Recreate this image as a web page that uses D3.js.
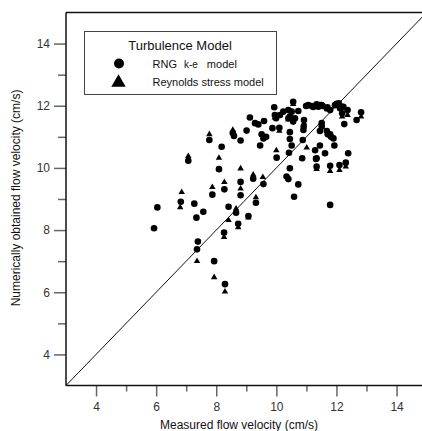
<!DOCTYPE html>
<html>
<head>
<meta charset="utf-8">
<script src="https://cdn.jsdelivr.net/npm/d3@7"></script>
<style>
  html, body { margin: 0; padding: 0; background: #fff; overflow: hidden; }
  text { font-family: "Liberation Sans", Arial, sans-serif; white-space: pre; }
</style>
</head>
<body>
<svg id="chart" width="422" height="431"></svg>
<script>
// ---- data ----
const rngMeasured = [5.93,6.04,6.82,7.07,7.27,7.34,7.39,7.36,7.57,7.77,7.87,7.93,8.09,8.18,8.27,8.26,8.29,8.41,8.55,8.59,8.66,8.73,8.81,8.81,8.81,9.01,9.07,9.12,9.29,9.40,9.59,9.51,9.66,9.57,9.46,9.23,9.57,9.32,9.87,10.10,9.93,9.95,9.99,10.12,10.23,10.40,10.51,10.45,10.40,10.73,10.62,10.56,10.56,10.92,10.91,10.90,10.88,10.45,10.45,10.51,10.42,10.01,10.86,11.29,11.32,10.45,10.34,10.40,10.73,10.59,11.79,10.99,11.06,11.18,11.23,11.34,11.40,11.45,11.51,11.54,11.68,11.70,11.79,11.95,12.01,12.08,12.12,12.18,12.23,12.19,12.37,12.82,12.67,12.26,11.51,11.51,11.45,11.68,11.71,11.79,11.82,11.90,11.45,11.93,11.62,12.39,11.34,11.34,11.79,12.10,12.31];
const rngValues   = [8.06,8.73,8.91,10.23,8.85,8.40,7.63,7.38,8.59,10.90,9.14,7.00,9.96,10.68,9.31,7.92,6.26,8.75,11.12,11.03,8.56,8.20,10.88,9.55,9.12,11.20,8.45,11.62,11.44,11.40,11.51,11.08,11.00,10.95,10.72,9.65,9.48,8.88,11.28,11.29,11.95,11.70,11.60,11.70,11.81,11.86,11.81,11.65,11.60,11.83,11.60,11.49,12.13,11.54,11.33,11.22,10.90,11.15,10.93,10.72,10.49,10.33,10.31,10.57,10.29,9.99,9.72,9.64,9.47,9.07,8.81,11.99,12.02,11.99,11.96,12.05,11.97,12.02,12.02,11.99,11.92,11.95,11.86,12.02,12.06,12.08,11.92,11.97,11.97,11.76,11.86,11.79,11.54,11.41,11.44,11.33,11.19,11.19,11.08,11.08,11.00,10.95,10.72,10.72,10.47,10.47,10.31,10.04,10.07,10.09,10.17];

const rsmMeasured = [6.85,6.80,7.07,7.36,7.77,7.87,7.93,8.09,8.27,8.26,8.29,8.41,8.55,8.66,8.73,8.81,8.81,9.23,9.55,9.32,10.10,10.00,11.01,12.19,12.37,12.82,11.34,11.79,12.10,12.31,9.07,10.56,10.92,9.95,11.51,10.40,11.70];
const rsmValues   = [9.22,8.73,10.38,7.00,11.08,9.38,6.48,10.32,9.54,7.77,6.02,8.32,11.22,8.69,8.09,9.98,9.33,9.78,9.70,9.05,11.19,10.56,10.65,11.65,11.70,11.65,9.96,9.90,9.93,10.04,8.40,12.05,11.45,11.62,11.30,11.55,11.88];

const xMajorTicks = [4,6,8,10,12,14];
const xMinorTicks = [5,7,9,11,13];
const yMajorTicks = [4,6,8,10,12,14];
const yMinorTicks = [5,7,9,11,13];
const axisDomain = [3,15];

const legendTitle = "Turbulence Model";
const xLabel = "Measured flow velocity (cm/s)";
const yLabel = "Numerically obtained flow velocity (cm/s)";

// ---- drawing ----
const svg = d3.select("#chart");
const x = d3.scaleLinear().domain(axisDomain).range([66, 426.6]);
const y = d3.scaleLinear().domain(axisDomain).range([385.5, 12.5]);

const xMaj = svg.append("g").attr("transform", `translate(0,${y(3)})`)
  .call(d3.axisBottom(x).tickValues(xMajorTicks).tickSize(11).tickPadding(6).tickFormat(d3.format("d")));
const xMin = svg.append("g").attr("transform", `translate(0,${y(3)})`)
  .call(d3.axisBottom(x).tickValues(xMinorTicks).tickSize(6).tickFormat(""));
const yMaj = svg.append("g").attr("transform", `translate(${x(3)},0)`)
  .call(d3.axisLeft(y).tickValues(yMajorTicks).tickSize(12).tickPadding(4).tickFormat(d3.format("d")));
const yMin = svg.append("g").attr("transform", `translate(${x(3)},0)`)
  .call(d3.axisLeft(y).tickValues(yMinorTicks).tickSize(8).tickFormat(""));

[xMaj, xMin, yMaj, yMin].forEach(g => {
  g.select(".domain").remove();
  g.selectAll(".tick line").attr("stroke", "#666").attr("stroke-width", 1.5);
  g.selectAll(".tick text").attr("fill", "#333").attr("font-size", 12)
    .attr("font-family", "Liberation Sans, Arial, sans-serif");
});

// frame: left, bottom, top (right side lies outside the window)
svg.append("line").attr("x1", x(3)).attr("x2", x(15)).attr("y1", y(3)).attr("y2", y(3))
  .attr("stroke", "#111").attr("stroke-width", 1.5);
svg.append("line").attr("x1", x(3)).attr("x2", x(3)).attr("y1", y(3)).attr("y2", y(15))
  .attr("stroke", "#111").attr("stroke-width", 1.5);
svg.append("line").attr("x1", x(3)).attr("x2", x(15)).attr("y1", y(15)).attr("y2", y(15))
  .attr("stroke", "#111").attr("stroke-width", 1.5);

// 1:1 line
svg.append("line").attr("x1", x(3)).attr("y1", y(3)).attr("x2", x(15)).attr("y2", y(15))
  .attr("stroke", "#111").attr("stroke-width", 1);

// points
const triSym = d3.symbol().type(d3.symbolTriangle).size(18);
svg.append("g").selectAll("path")
  .data(d3.range(rsmMeasured.length))
  .join("path")
  .attr("d", triSym)
  .attr("transform", i => `translate(${x(rsmMeasured[i])},${y(rsmValues[i])})`)
  .attr("fill", "#000");

svg.append("g").selectAll("circle")
  .data(d3.range(rngMeasured.length))
  .join("circle")
  .attr("cx", i => x(rngMeasured[i]))
  .attr("cy", i => y(rngValues[i]))
  .attr("r", 3.3)
  .attr("fill", "#000");

// legend
const lg = svg.append("g");
lg.append("rect").attr("x", 84.5).attr("y", 31.5).attr("width", 192).attr("height", 63)
  .attr("fill", "#fff").attr("stroke", "#444").attr("stroke-width", 1);
lg.append("text").attr("x", 180).attr("y", 50).attr("text-anchor", "middle")
  .attr("font-size", 13).attr("fill", "#111").text(legendTitle);
lg.append("circle").attr("cx", 119).attr("cy", 63.5).attr("r", 5).attr("fill", "#000");
lg.append("path").attr("d", d3.symbol().type(d3.symbolTriangle).size(90)())
  .attr("transform", "translate(118.5,82.5)").attr("fill", "#000");
const t1 = lg.append("text").attr("x", 152.5).attr("y", 67.5).attr("font-size", 11).attr("fill", "#111");
t1.append("tspan").text("RNG");
t1.append("tspan").attr("dx", 7).attr("font-size", 10).text("k-e");
t1.append("tspan").attr("dx", 9).text("model");
lg.append("text").attr("x", 152.5).attr("y", 86).attr("font-size", 11).attr("fill", "#111")
  .text("Reynolds stress model");

// axis titles
svg.append("text").attr("x", 239).attr("y", 429).attr("text-anchor", "middle")
  .attr("font-size", 12).attr("fill", "#111").text(xLabel);
svg.append("text").attr("transform", "translate(20,198) rotate(-90)").attr("text-anchor", "middle")
  .attr("font-size", 12).attr("fill", "#111").text(yLabel);
</script>
</body>
</html>
